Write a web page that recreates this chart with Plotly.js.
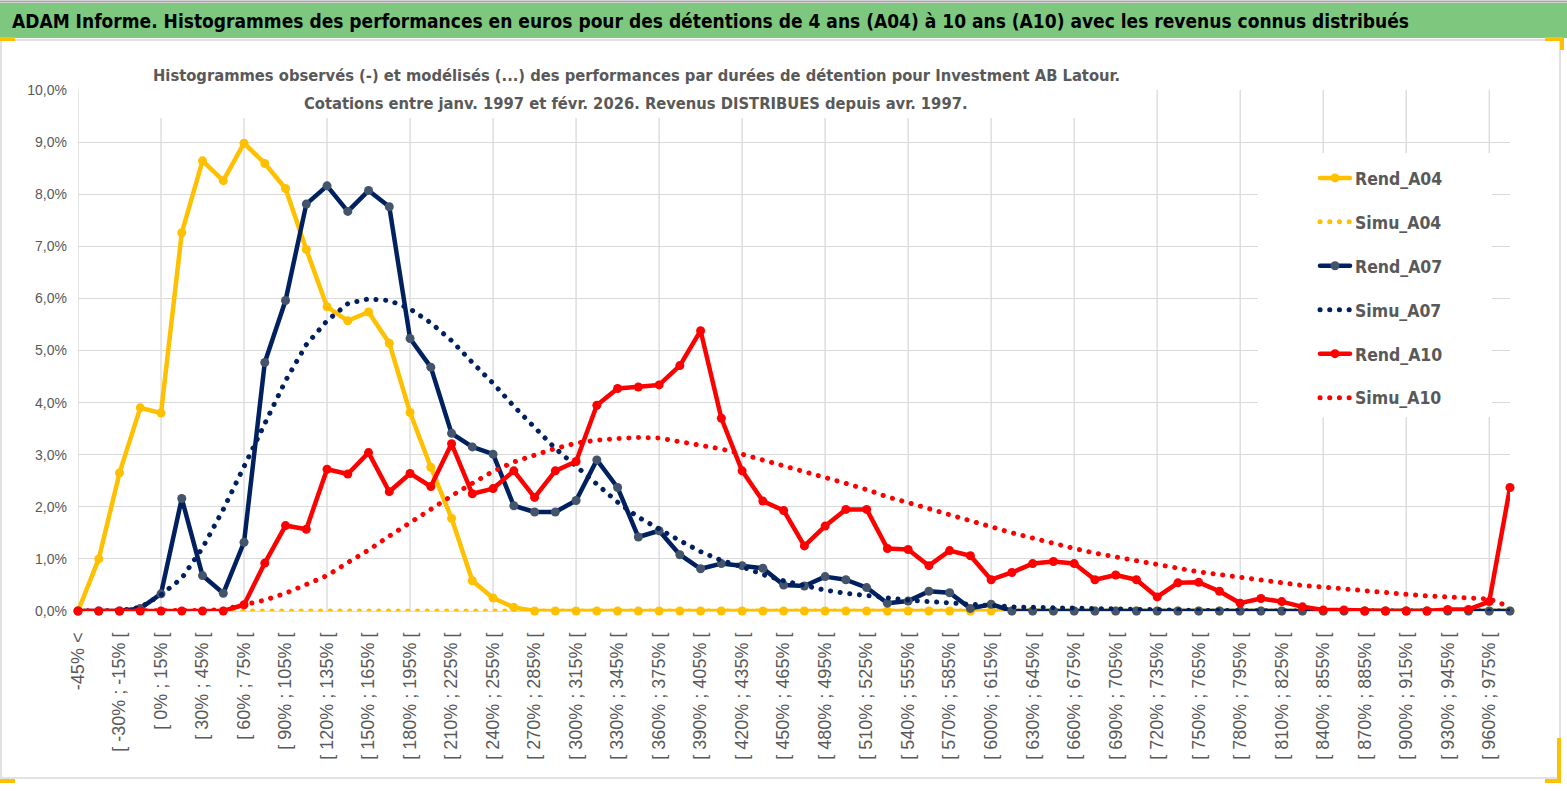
<!DOCTYPE html>
<html>
<head>
<meta charset="utf-8">
<script src="https://cdn.plot.ly/plotly-3.0.1.min.js"></script>
<style>
  html, body { margin: 0; padding: 0; background: #ffffff; }
  #chart { width: 1567px; height: 791px; }
  .js-line { stroke-linecap: round; stroke-linejoin: round; }
</style>
</head>
<body>
<div id="chart"></div>
<script>
// ---------- DATA ----------
const categories = [
  "-45% <", "[ -45% ; -30% [", "[ -30% ; -15% [", "[ -15% ; 0% [",
  "[ 0% ; 15% [", "[ 15% ; 30% [", "[ 30% ; 45% [", "[ 45% ; 60% [",
  "[ 60% ; 75% [", "[ 75% ; 90% [", "[ 90% ; 105% [", "[ 105% ; 120% [",
  "[ 120% ; 135% [", "[ 135% ; 150% [", "[ 150% ; 165% [", "[ 165% ; 180% [",
  "[ 180% ; 195% [", "[ 195% ; 210% [", "[ 210% ; 225% [", "[ 225% ; 240% [",
  "[ 240% ; 255% [", "[ 255% ; 270% [", "[ 270% ; 285% [", "[ 285% ; 300% [",
  "[ 300% ; 315% [", "[ 315% ; 330% [", "[ 330% ; 345% [", "[ 345% ; 360% [",
  "[ 360% ; 375% [", "[ 375% ; 390% [", "[ 390% ; 405% [", "[ 405% ; 420% [",
  "[ 420% ; 435% [", "[ 435% ; 450% [", "[ 450% ; 465% [", "[ 465% ; 480% [",
  "[ 480% ; 495% [", "[ 495% ; 510% [", "[ 510% ; 525% [", "[ 525% ; 540% [",
  "[ 540% ; 555% [", "[ 555% ; 570% [", "[ 570% ; 585% [", "[ 585% ; 600% [",
  "[ 600% ; 615% [", "[ 615% ; 630% [", "[ 630% ; 645% [", "[ 645% ; 660% [",
  "[ 660% ; 675% [", "[ 675% ; 690% [", "[ 690% ; 705% [", "[ 705% ; 720% [",
  "[ 720% ; 735% [", "[ 735% ; 750% [", "[ 750% ; 765% [", "[ 765% ; 780% [",
  "[ 780% ; 795% [", "[ 795% ; 810% [", "[ 810% ; 825% [", "[ 825% ; 840% [",
  "[ 840% ; 855% [", "[ 855% ; 870% [", "[ 870% ; 885% [", "[ 885% ; 900% [",
  "[ 900% ; 915% [", "[ 915% ; 930% [", "[ 930% ; 945% [", "[ 945% ; 960% [",
  "[ 960% ; 975% [", "975% >"
];

// values in %
const rendA04 = [
  0, 1.00, 2.65, 3.90, 3.80, 7.26, 8.64, 8.26, 8.98, 8.59,
  8.11, 6.94, 5.84, 5.57, 5.74, 5.14, 3.81, 2.76, 1.78, 0.58,
  0.25, 0.07, 0, 0, 0, 0, 0, 0, 0, 0,
  0, 0, 0, 0, 0, 0, 0, 0, 0, 0,
  0, 0, 0, 0, 0, 0, 0, 0, 0, 0,
  0, 0, 0, 0, 0, 0, 0, 0, 0, 0,
  0, 0, 0, 0, 0, 0, 0, 0, 0, 0
];
const simuA04 = [
  0, 0, 0, 0, 0, 0, 0, 0, 0, 0,
  0, 0, 0, 0, 0, 0, 0, 0, 0, 0,
  0, 0, 0, 0, 0, 0, 0, 0, 0, 0,
  0, 0, 0, 0, 0, 0, 0, 0, 0, 0,
  0, 0, 0, 0, 0, 0, 0, 0, 0, 0,
  0, 0, 0, 0, 0, 0, 0, 0, 0, 0,
  0, 0, 0, 0, 0, 0, 0, 0, 0, 0
];
const rendA07 = [
  0, 0, 0, 0.05, 0.33, 2.16, 0.68, 0.34, 1.32, 4.77,
  5.96, 7.81, 8.16, 7.67, 8.07, 7.76, 5.23, 4.68, 3.41, 3.15,
  3.01, 2.02, 1.90, 1.90, 2.12, 2.90, 2.37, 1.42, 1.54, 1.08,
  0.81, 0.91, 0.87, 0.82, 0.50, 0.48, 0.66, 0.60, 0.45, 0.15,
  0.19, 0.38, 0.35, 0.05, 0.13, 0, 0, 0, 0, 0,
  0, 0, 0, 0, 0, 0, 0, 0, 0, 0,
  0, 0, 0, 0, 0, 0, 0, 0, 0, 0
];
const simuA07 = [
  0, 0, 0.01, 0.07, 0.31, 0.63, 1.21, 1.95, 2.78, 3.61,
  4.42, 5.11, 5.57, 5.90, 5.99, 5.96, 5.80, 5.53, 5.19, 4.77,
  4.37, 3.93, 3.52, 3.12, 2.78, 2.43, 2.09, 1.80, 1.57, 1.35,
  1.14, 0.97, 0.85, 0.70, 0.58, 0.48, 0.40, 0.34, 0.29, 0.25,
  0.21, 0.18, 0.15, 0.12, 0.10, 0.08, 0.07, 0.06, 0.05, 0.04,
  0.03, 0.03, 0.02, 0.02, 0.01, 0.01, 0, 0, 0, 0,
  0, 0, 0, 0, 0, 0, 0, 0, 0, 0
];
const rendA10 = [
  0, 0, 0, 0, 0, 0, 0, 0, 0.12, 0.92,
  1.64, 1.57, 2.72, 2.63, 3.04, 2.29, 2.64, 2.39, 3.21, 2.25,
  2.35, 2.69, 2.18, 2.69, 2.87, 3.95, 4.27, 4.30, 4.34, 4.71,
  5.38, 3.70, 2.69, 2.11, 1.93, 1.25, 1.63, 1.95, 1.95, 1.20,
  1.18, 0.87, 1.16, 1.06, 0.60, 0.74, 0.91, 0.95, 0.91, 0.60,
  0.69, 0.60, 0.27, 0.54, 0.55, 0.38, 0.15, 0.24, 0.18, 0.08,
  0.02, 0.02, 0, 0, 0, 0, 0.03, 0.03, 0.18, 2.37
];
const simuA10 = [
  0, 0, 0, 0, 0, 0, 0.01, 0.03, 0.12, 0.21,
  0.34, 0.52, 0.68, 0.93, 1.17, 1.44, 1.70, 1.95, 2.21, 2.45,
  2.68, 2.86, 3.00, 3.12, 3.22, 3.28, 3.31, 3.33, 3.32, 3.25,
  3.19, 3.11, 3.01, 2.90, 2.80, 2.68, 2.57, 2.45, 2.33, 2.19,
  2.08, 1.96, 1.84, 1.72, 1.61, 1.50, 1.40, 1.29, 1.20, 1.11,
  1.04, 0.96, 0.88, 0.82, 0.75, 0.70, 0.65, 0.58, 0.54, 0.49,
  0.46, 0.42, 0.38, 0.35, 0.32, 0.29, 0.27, 0.26, 0.23, 0.08
];
const yTicks = [0, 1, 2, 3, 4, 5, 6, 7, 8, 9, 10];
const yTickLabels = ["0,0%", "1,0%", "2,0%", "3,0%", "4,0%", "5,0%", "6,0%", "7,0%", "8,0%", "9,0%", "10,0%"];
const seriesNames = ["Rend_A04", "Simu_A04", "Rend_A07", "Simu_A07", "Rend_A10", "Simu_A10"];

const titleText = "ADAM Informe. Histogrammes des performances en euros pour des détentions de 4 ans (A04) à 10 ans (A10) avec les revenus connus distribués";
const subtitle1 = "Histogrammes observés (-) et modélisés (...) des performances par durées de détention pour Investment AB Latour.";
const subtitle2 = "Cotations entre janv. 1997 et févr. 2026. Revenus DISTRIBUES depuis avr. 1997.";

// ---------- STYLE ----------
const NARROW = '"Liberation Sans Narrow", "DejaVu Sans Condensed", "Arial Narrow", sans-serif';
const SANS = '"Liberation Sans", Arial, sans-serif';
const GOLD = '#FFC000', NAVY = '#002060', SLATE = '#44546A', RED = '#FF0000';
const GRID = '#d9d9d9';
const LW = 4.5;
const DOTS = '0.1px,9.6px';

function solid(name, y, color, mcolor) {
  return {
    type: 'scatter', mode: 'lines+markers', name: name, legendgroup: name,
    x: categories, y: y,
    line: {color: color, width: LW},
    marker: {color: mcolor, size: 9, line: {width: 0}},
    cliponaxis: false
  };
}
function dotted(name, y, color) {
  return {
    type: 'scatter', mode: 'lines', name: name, legendgroup: name,
    x: categories, y: y,
    line: {color: color, width: LW + 0.5, dash: DOTS},
    cliponaxis: false
  };
}

const traces = [
  solid(seriesNames[0], rendA04, GOLD, GOLD),
  dotted(seriesNames[1], simuA04, GOLD),
  solid(seriesNames[2], rendA07, NAVY, SLATE),
  dotted(seriesNames[3], simuA07, NAVY),
  solid(seriesNames[4], rendA10, RED, RED),
  dotted(seriesNames[5], simuA10, RED)
];

// pixel -> paper helpers (plot area: x 78..1510, y 90..611)
const PL = 78, PR = 1510, PT = 90, PB = 611;
const px = v => (v - PL) / (PR - PL);
const py = v => (PB - v) / (PB - PT);

const shapes = [];
// green title banner + top border
shapes.push({type: 'rect', xref: 'paper', yref: 'paper', layer: 'below',
  x0: px(0), x1: px(1567), y0: py(38), y1: py(3), fillcolor: '#7dc87e', line: {width: 0}});
shapes.push({type: 'line', xref: 'paper', yref: 'paper', layer: 'below',
  x0: px(0), x1: px(1567), y0: py(1.5), y1: py(1.5), line: {color: '#a6a6a6', width: 2}});
// chart frame
shapes.push({type: 'rect', xref: 'paper', yref: 'paper', layer: 'below',
  x0: px(1), x1: px(1560), y0: py(778), y1: py(40), fillcolor: 'rgba(0,0,0,0)', line: {color: '#d9d9d9', width: 1.5}});
// yellow corner accents
[[0, 37, 15, 41], [1545, 37, 1562, 41], [1560, 37, 1564, 50], [0, 779, 15, 783],
 [1545, 779, 1560, 783], [1557, 738, 1561, 783]].forEach(r => {
  shapes.push({type: 'rect', xref: 'paper', yref: 'paper', layer: 'below',
    x0: px(r[0]), x1: px(r[2]), y0: py(r[3]), y1: py(r[1]), fillcolor: GOLD, line: {width: 0}});
});
// vertical gridlines every 4 categories
for (let i = 0; i < categories.length; i += 4) {
  shapes.push({type: 'line', xref: 'x', yref: 'y', layer: 'below',
    x0: i, x1: i, y0: 0, y1: 10, line: {color: GRID, width: 1.3}});
}
// white boxes behind subtitle and legend (hide gridlines)
shapes.push({type: 'rect', xref: 'x', yref: 'y', layer: 'between',
  x0: (152 - PL) / 20.754, x1: (1120 - PL) / 20.754, y0: (PB - 118) / 52.1, y1: 10.6,
  fillcolor: '#ffffff', line: {width: 0}});
shapes.push({type: 'rect', xref: 'x', yref: 'y', layer: 'between',
  x0: (1258 - PL) / 20.754, x1: (1492 - PL) / 20.754, y0: (PB - 417) / 52.1, y1: (PB - 153) / 52.1,
  fillcolor: '#ffffff', line: {width: 0}});

const layout = {
  width: 1567, height: 791,
  margin: {l: PL, r: 1567 - PR, t: PT, b: 791 - PB, pad: 0},
  paper_bgcolor: '#ffffff', plot_bgcolor: 'rgba(0,0,0,0)',
  showlegend: true,
  title: {
    text: titleText, xref: 'container', yref: 'container',
    x: 12 / 1567, xanchor: 'left', y: 1 - 21 / 791, yanchor: 'middle',
    font: {family: NARROW, size: 19, color: '#000000', weight: 'bold'}
  },
  xaxis: {
    type: 'category', range: [0, categories.length - 1],
    tickmode: 'array',
    tickvals: categories.filter((c, i) => i % 2 === 0),
    ticktext: categories.filter((c, i) => i % 2 === 0),
    tickangle: -90, showgrid: false, zeroline: false, showline: false,
    ticks: '', ticklabelstandoff: 17,
    tickfont: {family: SANS, size: 18, color: '#595959'},
    fixedrange: true
  },
  yaxis: {
    range: [0, 10], tickmode: 'array', tickvals: yTicks, ticktext: yTickLabels,
    showgrid: true, gridcolor: GRID, gridwidth: 1.3,
    zeroline: true, zerolinecolor: GRID, zerolinewidth: 1.3,
    showline: false, ticks: '', ticklabelstandoff: 10,
    tickfont: {family: SANS, size: 14, color: '#595959'},
    fixedrange: true
  },
  legend: {
    x: px(1315), y: py(160), xanchor: 'left', yanchor: 'top',
    bgcolor: 'rgba(0,0,0,0)', borderwidth: 0,
    tracegroupgap: 18.2,
    font: {family: NARROW, size: 17.5, color: '#595959', weight: 'bold'}
  },
  annotations: [
    {xref: 'paper', yref: 'paper', x: px(636), y: py(76), xanchor: 'center', yanchor: 'middle',
     text: subtitle1, showarrow: false,
     font: {family: NARROW, size: 16.4, color: '#595959', weight: 'bold'}},
    {xref: 'paper', yref: 'paper', x: px(636), y: py(104), xanchor: 'center', yanchor: 'middle',
     text: subtitle2, showarrow: false,
     font: {family: NARROW, size: 16.4, color: '#595959', weight: 'bold'}}
  ],
  shapes: shapes,
  hovermode: false
};

Plotly.newPlot('chart', traces, layout, {displayModeBar: false, responsive: false});
</script>
</body>
</html>
